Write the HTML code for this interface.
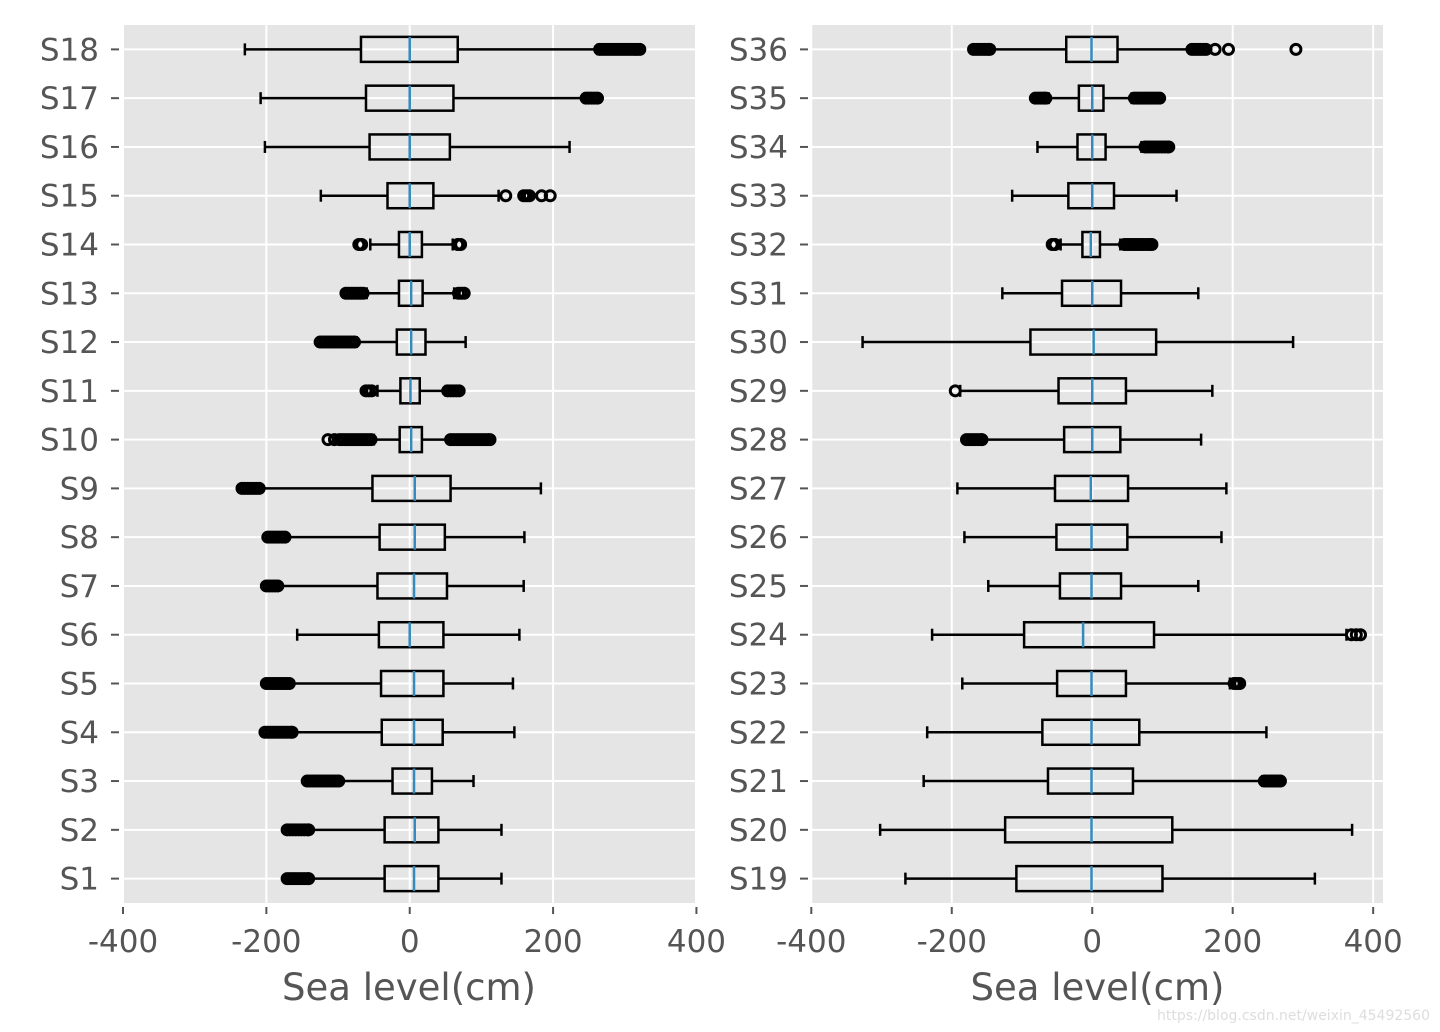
<!DOCTYPE html>
<html><head><meta charset="utf-8"><style>
body{margin:0;background:#fff}
svg{display:block;font-family:"DejaVu Sans","Liberation Sans",sans-serif}
</style></head><body>
<svg id="c" width="1440" height="1032"></svg>
<script>
// ---- data (cm) ----
const leftNames=["S1","S2","S3","S4","S5","S6","S7","S8","S9","S10","S11","S12","S13","S14","S15","S16","S17","S18"];
const leftWlo=[-140,-140,-98,-164,-167,-157,-184,-173,-209,-50,-45,-74,-60,-55,-124,-202,-208,-230];
const leftQ1=[-35,-35,-24,-39,-40,-43,-45,-42,-52,-14,-13,-18,-15,-15,-31,-56,-61,-68];
const leftMed=[6,7,6,6,6,0,6,7,7,2,1,2,2,0,0,0,0,0];
const leftQ3=[40,40,31,46,47,47,52,49,57,17,14,22,18,17,33,56,61,67];
const leftWhi=[128,128,89,146,144,153,159,160,183,57,50,78,62,60,124,223,244,262];
const leftOut=[
[-171,-167,-163,-159,-155,-151,-147,-143,-141],
[-171,-167,-163,-159,-155,-151,-147,-143,-141],
[-143,-139,-135,-131,-127,-123,-119,-115,-111,-107,-103,-99],
[-202,-198,-194,-190,-186,-182,-178,-174,-170,-166,-164],
[-200,-196,-192,-188,-184,-180,-176,-172,-168],
[],
[-200,-196,-192,-188,-184],
[-198,-194,-190,-186,-182,-178,-174],
[-234,-230,-226,-222,-218,-214,-210],
[-114,-105,-98,-94,-90,-86,-82,-78,-74,-70,-66,-62,-58,-54,57,61,65,69,73,77,81,85,89,93,97,101,105,109,112],
[-61,-57,-53,53,57,61,65,69],
[-125,-121,-117,-113,-109,-105,-101,-97,-93,-89,-85,-81,-77],
[-89,-85,-81,-77,-73,-69,-65,68,72,76],
[-71,-67,67,71],
[134,159,163,167,184,196],
[],
[246,250,254,258,262],
[265,269,273,277,281,285,289,293,297,301,305,309,313,317,321]];

const rightNames=["S19","S20","S21","S22","S23","S24","S25","S26","S27","S28","S29","S30","S31","S32","S33","S34","S35","S36"];
const rightWlo=[-266,-302,-240,-235,-185,-228,-148,-182,-192,-157,-188,-327,-128,-45,-114,-78,-62,-145];
const rightQ1=[-108,-124,-63,-71,-50,-97,-46,-51,-53,-40,-48,-88,-43,-14,-34,-21,-19,-37];
const rightMed=[-1,-1,-1,-1,-1,-13,-1,-1,-2,0,0,2,0,-2,0,0,0,-1];
const rightQ3=[100,114,58,67,48,88,41,50,51,40,48,91,41,11,31,19,16,36];
const rightWhi=[317,370,242,248,196,362,151,184,191,155,171,286,151,40,120,70,56,140];
const rightOut=[
[],[],
[245,249,253,257,261,265,268],
[],
[202,206,210],
[369,376,382],
[],[],[],
[-179,-175,-171,-167,-163,-159,-157],
[-195],
[],[],
[-57,-53,46,50,54,58,62,66,70,74,78,82,85],
[],
[75,79,83,87,91,95,99,103,107,109],
[-81,-77,-73,-69,-66,60,64,68,72,76,80,84,88,92,96],
[-169,-165,-161,-157,-153,-149,-146,142,146,150,154,158,162,175,194,290]];

const xTicks=[-400,-200,0,200,400];
const xTickLabels=["-400","-200","0","200","400"];

// ---- drawing ----
const NS="http://www.w3.org/2000/svg";
const svg=document.getElementById("c");
function mk(tag,attrs,parent){const e=document.createElementNS(NS,tag);for(const k in attrs)e.setAttribute(k,attrs[k]);(parent||svg).appendChild(e);return e;}

function panel(cfg){
  const {x0,x1,y0,y1,xmin,xmax,names,wlo,q1,med,q3,whi,out,id}=cfg;
  const xs=v=>x0+(v-xmin)/(xmax-xmin)*(x1-x0);
  const n=names.length;
  const yv=v=>y1-(v-0.5)/(n)*(y1-y0);
  const g=mk("g",{});
  
  
  const bg=mk("rect",{x:x0,y:y0,width:x1-x0,height:y1-y0,fill:"#e5e5e5"},g);
  
  
  xTicks.forEach((t,k)=>{
    const X=xs(t);
    if(X>=x0-1&&X<=x1+1){
      const gl=mk("line",{x1:X,x2:X,y1:y0,y2:y1,stroke:"#fff","stroke-width":2},g);
      
      
    }
    const tk=mk("line",{x1:X,x2:X,y1:y1+4,y2:y1+11,stroke:"#555","stroke-width":2},g);
    
    
    const tl=mk("text",{x:X,y:y1+49,"text-anchor":"middle","font-size":31,fill:"#555"},g);
    tl.textContent=xTickLabels[k];
    
    
  });
  for(let i=0;i<n;i++){
    const Y=yv(i+1);
    const gl=mk("line",{x1:x0,x2:x1,y1:Y,y2:Y,stroke:"#fff","stroke-width":2},g);
    
    
    const tk=mk("line",{x1:x0-12,x2:x0-4,y1:Y,y2:Y,stroke:"#555","stroke-width":2},g);
    
    
    const tl=mk("text",{x:x0-24,y:Y+11,"text-anchor":"end","font-size":31,fill:"#555"},g);
    tl.textContent=names[i];
    
    
  }
  const bh=25;
  for(let i=0;i<n;i++){
    const Y=yv(i+1);
    const bx=mk("g",{},g);
    
    
    const ln=(a,b,c,d,col)=>mk("line",{x1:a,y1:b,x2:c,y2:d,stroke:col||"#000","stroke-width":2.5},bx);
    ln(xs(wlo[i]),Y,xs(q1[i]),Y);
    ln(xs(q3[i]),Y,xs(whi[i]),Y);
    ln(xs(wlo[i]),Y-6,xs(wlo[i]),Y+6);
    ln(xs(whi[i]),Y-6,xs(whi[i]),Y+6);
    mk("rect",{x:xs(q1[i]),y:Y-bh/2,width:xs(q3[i])-xs(q1[i]),height:bh,fill:"none",stroke:"#000","stroke-width":2.5},bx);
    ln(xs(med[i]),Y-bh/2,xs(med[i]),Y+bh/2,"#348abd");
    out[i].forEach(v=>{
      const c=mk("circle",{cx:xs(v),cy:Y,r:5,fill:"none",stroke:"#000","stroke-width":3},bx);
      
      
    });
  }
  const al=mk("text",{x:(x0+x1)/2,y:1000,"text-anchor":"middle","font-size":37,fill:"#555"},g);
  al.textContent="Sea level(cm)";
  
  
}
panel({id:"left",x0:123,x1:695,y0:25,y1:903,xmin:-400,xmax:398,names:leftNames,wlo:leftWlo,q1:leftQ1,med:leftMed,q3:leftQ3,whi:leftWhi,out:leftOut});
panel({id:"right",x0:812,x1:1383,y0:25,y1:903,xmin:-399,xmax:414,names:rightNames,wlo:rightWlo,q1:rightQ1,med:rightMed,q3:rightQ3,whi:rightWhi,out:rightOut});
const wm=mk("text",{x:1430,y:1020,"text-anchor":"end","font-size":14,fill:"#ddd"});
wm.textContent="https://blog.csdn.net/weixin_45492560";


</script>
</body></html>
